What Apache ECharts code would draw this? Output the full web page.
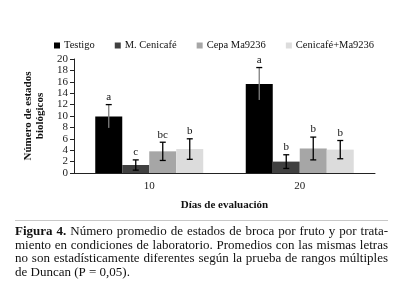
<!DOCTYPE html>
<html>
<head>
<meta charset="utf-8">
<script src="https://cdn.jsdelivr.net/npm/echarts@6/dist/echarts.min.js"></script>
<style>
  html, body { margin: 0; padding: 0; background: #fff; }
  #chart { width: 400px; height: 286px; }
</style>
</head>
<body>
<div id="chart"></div>
<script>
(function() {
    const categories = ['10', '20'];
    const treatments = ['Testigo', 'M. Cenicafé', 'Cepa Ma9236', 'Cenicafé+Ma9236'];
    const testigo = [9.9, 15.6];
    const mCenicafe = [1.4, 2.0];
    const cepa = [3.8, 4.3];
    const cenicafeMa = [4.2, 4.1];
    const errTestigo = [2.1, 2.9];
    const errMCenicafe = [0.9, 1.2];
    const errCepa = [1.6, 2.0];
    const errCenicafeMa = [1.8, 1.6];
    const letters10 = ['a', 'c', 'bc', 'b'];
    const letters20 = ['a', 'b', 'b', 'b'];
    const yTicks = [0, 2, 4, 6, 8, 10, 12, 14, 16, 18, 20];
    const captionLines = [
      'Número promedio de estados de broca por fruto y por trata-',
      'miento en condiciones de laboratorio. Promedios con las mismas letras',
      'no son estadísticamente diferentes según la prueba de rangos múltiples',
      'de Duncan (P = 0,05).'
    ];

    const colors = ['#000000', '#404040', '#a6a6a6', '#dcdcdc'];
    const errColors = ['#7f7f7f', '#000000', '#000000', '#000000'];
    const serif = '"Liberation Serif", "Times New Roman", serif';
    const barW = 27;

    const values = [testigo, mCenicafe, cepa, cenicafeMa];
    const errs = [errTestigo, errMCenicafe, errCepa, errCenicafeMa];
    const letters = [letters10, letters20];

    // error bars + letters as one custom series
    const errData = [];
    for (let c = 0; c < categories.length; c++) {
      for (let s = 0; s < treatments.length; s++) {
        errData.push([c, s, values[s][c], errs[s][c], letters[c][s]]);
      }
    }

    // caption, justified word by word
    const canvas = document.createElement('canvas');
    const ctx = canvas.getContext('2d');
    const capLeft = 15, capRight = 388, capSize = 13;
    const capY = [232, 245.5, 259, 272.5];
    const graphics = [{
      type: 'line',
      shape: { x1: capLeft, y1: 220.5, x2: capRight, y2: 220.5 },
      style: { stroke: '#c8c8c8', lineWidth: 1 }
    }];
    captionLines.forEach((line, li) => {
      const words = line.split(' ').map(w => ({ text: w, bold: false }));
      if (li === 0) {
        words.unshift({ text: '4.', bold: true });
        words.unshift({ text: 'Figura', bold: true });
      }
      let total = 0;
      words.forEach(w => {
        ctx.font = (w.bold ? 'bold ' : '') + capSize + 'px ' + serif;
        w.width = ctx.measureText(w.text).width;
        total += w.width;
      });
      ctx.font = capSize + 'px ' + serif;
      const spaceW = ctx.measureText(' ').width;
      const justify = li < captionLines.length - 1;
      const gap = justify ? (capRight - capLeft - total) / (words.length - 1) : spaceW;
      let x = capLeft;
      words.forEach(w => {
        graphics.push({
          type: 'text',
          x: x,
          y: capY[li],
          style: {
            text: w.text,
            fontSize: capSize,
            fontFamily: serif,
            fontWeight: w.bold ? 'bold' : 'normal',
            fill: '#111',
            verticalAlign: 'middle'
          }
        });
        x += w.width + gap;
      });
    });

    const chart = echarts.init(document.getElementById('chart'));

    const option = {
      animation: false,
      backgroundColor: '#ffffff',
      textStyle: { fontFamily: serif },
      legend: {
        data: treatments,
        left: 49,
        top: 35,
        itemWidth: 6,
        itemHeight: 6,
        itemGap: 20,
        icon: 'rect',
        textStyle: { fontSize: 10.5, fontFamily: serif, color: '#111', padding: [0, 0, 0, -1] }
      },
      grid: {
        left: 74,
        right: 25,
        top: 59,
        bottom: 113
      },
      xAxis: {
        type: 'category',
        data: categories,
        name: 'Días de evaluación',
        nameLocation: 'middle',
        nameGap: 27,
        nameTextStyle: { fontSize: 11, fontWeight: 'bold', fontFamily: serif, color: '#111' },
        axisLine: { lineStyle: { color: '#222', width: 1 } },
        axisTick: { length: 3, lineStyle: { color: '#222' } },
        axisLabel: { fontSize: 11, fontFamily: serif, color: '#222', margin: 8 }
      },
      yAxis: {
        type: 'value',
        min: yTicks[0],
        max: yTicks[yTicks.length - 1],
        interval: yTicks[1] - yTicks[0],
        name: 'Número de estados\nbiológicos',
        nameLocation: 'middle',
        nameRotate: 90,
        nameGap: 28,
        nameTextStyle: { fontSize: 11, fontWeight: 'bold', fontFamily: serif, color: '#111', lineHeight: 12 },
        axisLine: { show: true, lineStyle: { color: '#222', width: 1 } },
        axisTick: { show: true, length: 4, lineStyle: { color: '#222' } },
        axisLabel: { fontSize: 11, fontFamily: serif, color: '#222', margin: 6, showMinLabel: true, showMaxLabel: true },
        splitLine: { show: false }
      },
      series: treatments.map((name, i) => ({
        name: name,
        type: 'bar',
        data: values[i],
        barWidth: barW,
        barGap: '0%',
        itemStyle: { color: colors[i] }
      })).concat([{
        type: 'custom',
        data: errData,
        encode: { x: 0, y: 2 },
        z: 10,
        renderItem: function(params, api) {
          const c = api.value(0), s = api.value(1);
          const v = api.value(2), e = api.value(3);
          const letter = errData[params.dataIndex][4];
          const cx = api.coord([c, 0])[0] + (s - 1.5) * barW;
          const top = api.coord([c, v + e])[1];
          const bot = api.coord([c, v - e])[1];
          const stroke = { stroke: errColors[s], lineWidth: 1.3 };
          return {
            type: 'group',
            children: [
              { type: 'line', shape: { x1: cx, y1: top, x2: cx, y2: bot }, style: stroke },
              { type: 'line', shape: { x1: cx - 3, y1: top, x2: cx + 3, y2: top }, style: { stroke: '#000', lineWidth: 1.3 } },
              { type: 'line', shape: { x1: cx - 3, y1: bot, x2: cx + 3, y2: bot }, style: { stroke: '#000', lineWidth: 1.3 } },
              { type: 'text', x: cx, y: top - 2, style: {
                  text: letter, fontSize: 11, fontFamily: serif, fill: '#111',
                  align: 'center', verticalAlign: 'bottom' } }
            ]
          };
        }
      }]),
      graphic: graphics
    };

    chart.setOption(option);
    window.addEventListener('resize', () => chart.resize());
})();
</script>
</body>
</html>
